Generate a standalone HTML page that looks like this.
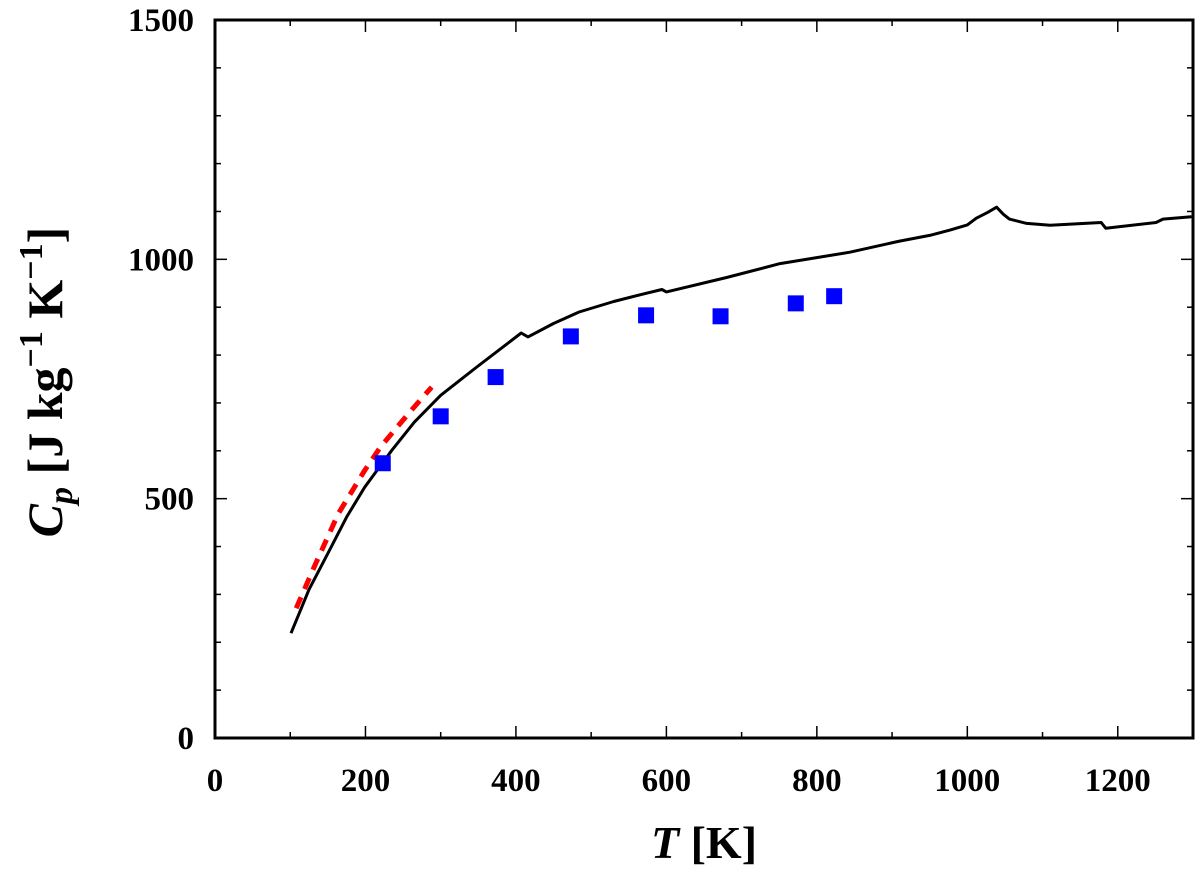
<!DOCTYPE html>
<html><head><meta charset="utf-8"><style>
body{margin:0;background:#fff}
svg{display:block;font-family:"Liberation Serif","Times New Roman",serif;font-weight:bold}
</style></head><body>
<svg id="chart" width="1200" height="869" viewBox="0 0 1200 869">
<g id="ticks"></g>
<g id="plot"></g>
<rect x="215" y="20" width="978" height="718" fill="none" stroke="#000" stroke-width="3"/>
<text x="704" y="858" font-size="46" text-anchor="middle"><tspan font-style="italic">T</tspan> [K]</text>
<text transform="translate(62,382) rotate(-90)" font-size="50" text-anchor="middle"><tspan font-style="italic">C</tspan><tspan font-style="italic" font-size="34" dy="10">p</tspan><tspan dy="-10"> [J kg</tspan><tspan font-size="34" dy="-20">−1</tspan><tspan dy="20"> K</tspan><tspan font-size="34" dy="-20">−1</tspan><tspan dy="20">]</tspan></text>
</svg>
<script>
const xTicks=[0,200,400,600,800,1000,1200];
const yTicks=[0,500,1000,1500];
const modelT=[101,125,152,175,199,235,265,300,348,407,416,450,484,530,573,594,600,680,751,844,910,950,977,1000,1012,1027,1039,1048,1056,1079,1110,1178,1184,1251,1260,1298];
const modelCp=[219,310,392,462,524,601,660,716,775,846,838,866,890,912,929,937,932,962,991,1015,1038,1050,1061,1072,1086,1098,1109,1094,1084,1075,1071,1077,1065,1077,1084,1089];
const fitT=[108,134,164,199,220,259,288];
const fitCp=[271,365,469,559,608,681,733];
const expT=[223,300,373,473,573,672,772,823];
const expCp=[574,672,754,839,883,881,908,923];
const X0=215,X1=1193,Y0=738,Y1=20,XMAX=1300,YMAX=1500;
const sx=v=>X0+v/XMAX*(X1-X0), sy=v=>Y0-v/YMAX*(Y0-Y1);
const NS='http://www.w3.org/2000/svg';
function mk(t,a,p){const e=document.createElementNS(NS,t);for(const k in a)e.setAttribute(k,a[k]);p.appendChild(e);return e;}
const tk=document.getElementById('ticks'),pl=document.getElementById('plot');
for(let v=0;v<=XMAX;v+=100){
  const L=v%200===0?12:6,x=sx(v);
  let e=mk('line',{x1:x,x2:x,y1:Y0,y2:Y0-L,stroke:'#000','stroke-width':1.5},tk);
  
  e=mk('line',{x1:x,x2:x,y1:Y1,y2:Y1+L,stroke:'#000','stroke-width':1.5},tk);
  
}
for(let v=0;v<=YMAX;v+=100){
  const L=v%500===0?12:6,y=sy(v);
  let e=mk('line',{x1:X0,x2:X0+L,y1:y,y2:y,stroke:'#000','stroke-width':1.5},tk);
  
  e=mk('line',{x1:X1,x2:X1-L,y1:y,y2:y,stroke:'#000','stroke-width':1.5},tk);
  
}
xTicks.forEach(v=>{const t=mk('text',{x:sx(v),y:791,'font-size':33,'text-anchor':'middle'},tk);t.textContent=v;
  });
yTicks.forEach(v=>{const t=mk('text',{x:194,y:sy(v)+11,'font-size':33,'text-anchor':'end'},tk);t.textContent=v;
  });
const pts=(a,b)=>a.map((t,i)=>sx(t).toFixed(1)+','+sy(b[i]).toFixed(1)).join(' ');
let m=mk('polyline',{points:pts(modelT,modelCp),fill:'none',stroke:'#000','stroke-width':3,'stroke-linejoin':'round'},pl);

let f=mk('polyline',{points:pts(fitT,fitCp),fill:'none',stroke:'#f00','stroke-width':5,'stroke-dasharray':'12,9'},pl);

expT.forEach((t,i)=>{const r=mk('rect',{x:sx(t)-8,y:sy(expCp[i])-8,width:16,height:16,fill:'#00f'},pl);
  });
</script>
</body></html>
